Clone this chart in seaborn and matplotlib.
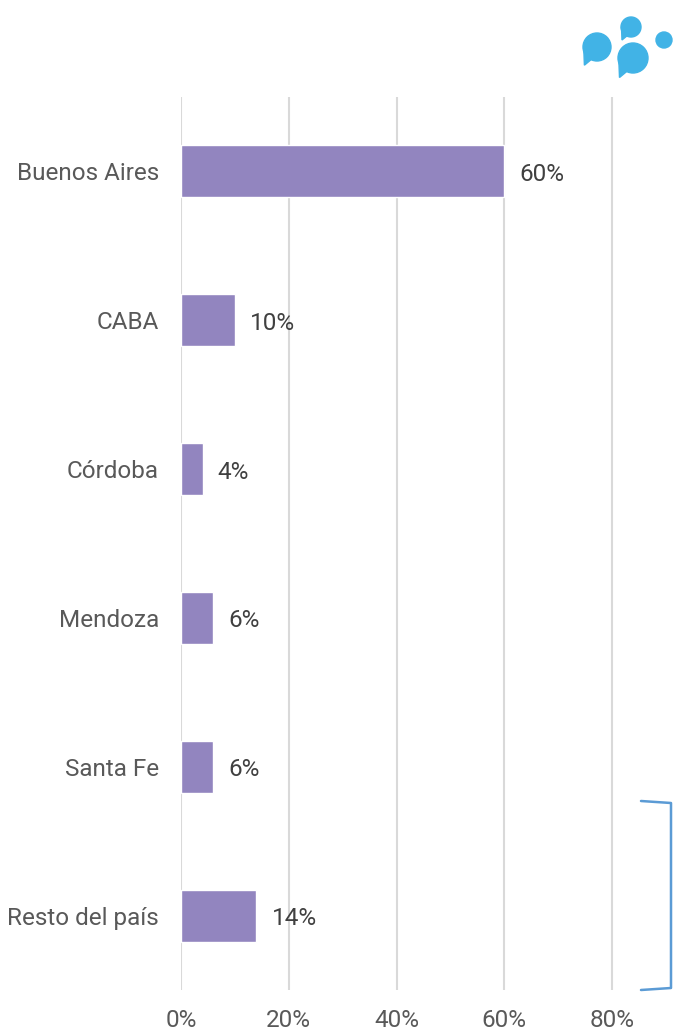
import matplotlib
matplotlib.use('Agg')
import matplotlib.pyplot as plt
import seaborn as sns
import pandas as pd
from matplotlib.patches import Ellipse, Polygon
from matplotlib.lines import Line2D

# datos
provincias = ['Buenos Aires', 'CABA', 'Córdoba', 'Mendoza', 'Santa Fe', 'Resto del país']
porcentajes = [60, 10, 4, 6, 6, 14]
ticks = [0, 20, 40, 60, 80]

df = pd.DataFrame({'provincia': provincias, 'pct': porcentajes})

sns.set_theme(style='white')
plt.rcParams['font.family'] = ['Roboto', 'DejaVu Sans']

fig = plt.figure(figsize=(6.73, 10.32), dpi=100)
ax = fig.add_axes([181 / 673, 42 / 1032, 458 / 673, 893 / 1032])

sns.barplot(data=df, x='pct', y='provincia', color='#9285BF', width=0.35,
            saturation=1, ax=ax, zorder=3)

ax.set_xlim(0, 85)
ax.set_ylim(5.5, -0.5)
ax.set_xticks(ticks)
ax.set_xticklabels([f'{t}%' for t in ticks])
ax.grid(axis='x', color='#D9D9D9', linewidth=1.5, zorder=0)
ax.grid(axis='y', visible=False)
for s in ax.spines.values():
    s.set_visible(False)
ax.set_xlabel('')
ax.set_ylabel('')
ax.tick_params(axis='x', colors='#595959', labelsize=17.5, pad=14, length=0)
ax.tick_params(axis='y', colors='#595959', labelsize=17.5, pad=16, length=0)

for i, v in enumerate(porcentajes):
    ax.text(v + 2.8, i + 0.02, f'{v}%', va='center', ha='left', fontsize=17.5, color='#404040')

# corchete
bx = [641 / 673, 671 / 673, 671 / 673, 641 / 673]
by = [1 - 801 / 1032, 1 - 803 / 1032, 1 - 988 / 1032, 1 - 990 / 1032]
fig.add_artist(Line2D(bx, by, color='#5B9BD5', linewidth=1.8, transform=fig.transFigure))

# logo
for cx, cy, r in [(597, 47, 14), (631, 27, 10), (633, 58, 15), (664, 40, 8)]:
    x, y = cx / 673, 1 - cy / 1032
    fig.add_artist(Ellipse((x, y), 2 * r / 673, 2 * r / 1032,
                           transform=fig.transFigure, color='#41B3E6'))
    if r > 9:
        fig.add_artist(Polygon([((cx - r * 0.95) / 673, 1 - cy / 1032),
                                ((cx - r * 0.3) / 673, 1 - (cy + r * 0.8) / 1032),
                                ((cx - r * 0.9) / 673, 1 - (cy + r * 1.3) / 1032)],
                               transform=fig.transFigure, color='#41B3E6'))

fig.savefig('out.png', dpi=100, facecolor='white')
